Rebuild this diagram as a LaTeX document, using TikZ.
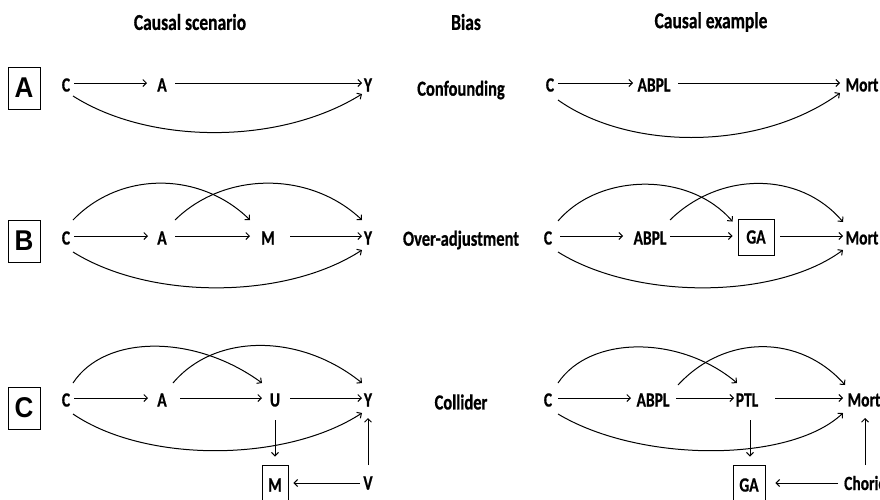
\documentclass[tikz,border=0pt]{standalone}
\usepackage{graphicx}
\usepackage{fontspec}
\setmainfont{Carlito}[BoldFeatures={FakeBold=0.8}]
\newfontfamily\arialb{Liberation Sans}
\usetikzlibrary{arrows.meta,calc}
\newcommand{\tallt}[1]{\scalebox{1}[1.3]{#1}}
\begin{document}
\begin{tikzpicture}[x=1pt,y=-1pt,
 lbl/.style={font=\fontsize{15.5}{17}\selectfont\bfseries, inner sep=0pt},
 hdr/.style={font=\fontsize{17.5}{19}\selectfont\bfseries, inner sep=0pt},
 biaslbl/.style={font=\fontsize{16.5}{18}\selectfont\bfseries, inner sep=0pt},
 letterbox/.style={draw, line width=0.7pt, minimum width=32pt, minimum height=42pt, inner sep=0pt, font=\arialb\bfseries\fontsize{26}{27}\selectfont},
 varbox/.style={draw, line width=0.9pt, inner sep=0pt, font=\fontsize{15.5}{17}\selectfont\bfseries},
 arr/.style={-{Straight Barb[length=3.5pt,width=7pt]}, line width=1pt},
]
\useasboundingbox (0,0) rectangle (880,499);

% headers
\node[hdr] (h1) at (190,22) {\tallt{Causal scenario}};
\node[hdr] (h2) at (466,22) {\tallt{Bias}};
\node[hdr] (h3) at (711,22) {\tallt{Causal example}};

% letter boxes
\node[letterbox] (bA) at (24,88) {\scalebox{1}[1.1]{A}};
\node[letterbox] (bB) at (24,241) {\scalebox{1}[1.1]{B}};
\node[letterbox] (bC) at (24,408) {\scalebox{1}[1.1]{C}};

% bias labels
\node[biaslbl] (biasA) at (461,90) {\tallt{Confounding}};
\node[biaslbl] (biasB) at (461,240) {\tallt{Over-adjustment}};
\node[biaslbl] (biasC) at (461,402) {\tallt{Collider}};

%% ---------- Row A ----------
\node[lbl] (cA) at (66,85) {\tallt{C}};
\node[lbl] (aA) at (162,85) {\tallt{A}};
\node[lbl] (yA) at (368,85) {\tallt{Y}};
\draw[arr] ($(cA)+(8,-2)$) -- ($(aA)+(-15,-2)$);
\draw[arr] ($(aA)+(13,-2)$) -- ($(yA)+(-6,-2)$);
\draw[arr] ($(cA)+(7,11)$) .. controls (150,145) and (280,145) .. ($(yA)+(-6,9)$);

\node[lbl] (cRA) at (550,85) {\tallt{C}};
\node[lbl] (abA) at (654,85) {\tallt{ABPL}};
\node[lbl] (mA) at (862,85) {\tallt{Mort}};
\draw[arr] ($(cRA)+(8,-2)$) -- ($(abA)+(-21,-2)$);
\draw[arr] ($(abA)+(24,-2)$) -- ($(mA)+(-22,-2)$);
\draw[arr] ($(cRA)+(8,15)$) .. controls (630,151) and (760,151) .. ($(mA)+(-22,8)$);

%% ---------- Row B ----------
\node[lbl] (cB) at (66,238) {\tallt{C}};
\node[lbl] (aB) at (162,238) {\tallt{A}};
\node[lbl] (mB) at (268,238) {\tallt{M}};
\node[lbl] (yB) at (368,238) {\tallt{Y}};
\draw[arr] ($(cB)+(8,-2)$) -- ($(aB)+(-14,-2)$);
\draw[arr] ($(aB)+(13,-2)$) -- ($(mB)+(-18,-2)$);
\draw[arr] ($(mB)+(22,-2)$) -- ($(yB)+(-6,-2)$);
\draw[arr] ($(cB)+(7,-18)$) .. controls (120,171) and (200,171) .. ($(mB)+(-18,-18)$);
\draw[arr] ($(aB)+(13,-18)$) .. controls (225,171) and (310,171) .. ($(yB)+(-6,-18)$);
\draw[arr] ($(cB)+(7,14)$) .. controls (150,300) and (285,300) .. ($(yB)+(-6,12)$);

\node[lbl] (cRB) at (548,238) {\tallt{C}};
\node[lbl] (abB) at (650,238) {\tallt{ABPL}};
\node[varbox, minimum width=36pt, minimum height=36pt] (gaB) at (756,237) {\tallt{GA}};
\node[lbl] (mortB) at (862,238) {\tallt{Mort}};
\draw[arr] ($(cRB)+(12,-2)$) -- ($(abB)+(-27,-2)$);
\draw[arr] ($(abB)+(20,-2)$) -- ($(gaB.west)+(-5,-1)$);
\draw[arr] ($(gaB.east)+(6,-1)$) -- ($(mortB)+(-19,-2)$);
\draw[arr] ($(cRB)+(10,-17)$) .. controls (600,172) and (690,172) .. ($(gaB.north west)+(-5,3)$);
\draw[arr] ($(abB)+(20,-18)$) .. controls (720,171) and (800,171) .. ($(mortB)+(-19,-16)$);
\draw[arr] ($(cRB)+(10,14)$) .. controls (635,300) and (775,300) .. ($(mortB)+(-19,12)$);

%% ---------- Row C ----------
\node[lbl] (cC) at (66,400) {\tallt{C}};
\node[lbl] (aC) at (162,400) {\tallt{A}};
\node[lbl] (uC) at (275,400) {\tallt{U}};
\node[lbl] (yC) at (368,400) {\tallt{Y}};
\node[varbox, minimum width=26pt, minimum height=40pt] (mC) at (275,485) {\tallt{M}};
\node[lbl] (vC) at (368,483) {\tallt{V}};
\draw[arr] ($(cC)+(8,-2)$) -- ($(aC)+(-14,-2)$);
\draw[arr] ($(aC)+(18,-2)$) -- ($(uC)+(-13,-2)$);
\draw[arr] ($(uC)+(15,-2)$) -- ($(yC)+(-6,-2)$);
\draw[arr] ($(uC)+(0,20)$) -- ($(mC.north)+(0,-8)$);
\draw[arr] ($(vC)+(-8,0)$) -- ($(mC.east)+(5,-2)$);
\draw[arr] ($(vC)+(0,-18)$) -- ($(yC)+(0,18)$);
\draw[arr] ($(cC)+(7,-17)$) .. controls (105,334) and (195,334) .. ($(uC)+(-13,-17)$);
\draw[arr] ($(aC)+(11,-17)$) .. controls (215,333) and (300,333) .. ($(yC)+(-6,-17)$);
\draw[arr] ($(cC)+(7,14)$) .. controls (145,463) and (285,463) .. ($(yC)+(-6,13)$);

\node[lbl] (cRC) at (548,400) {\tallt{C}};
\node[lbl] (abC) at (653,400) {\tallt{ABPL}};
\node[lbl] (ptl) at (747,400) {\tallt{PTL}};
\node[lbl] (mortC) at (864,400) {\tallt{Mort}};
\node[varbox, minimum width=32pt, minimum height=40pt] (gaC) at (749,485) {\tallt{GA}};
\node[lbl, anchor=west] (chor) at (844,483) {\tallt{Chorio}};
\draw[arr] ($(cRC)+(10,-2)$) -- ($(abC)+(-22,-2)$);
\draw[arr] ($(abC)+(23,-2)$) -- ($(ptl)+(-13,-2)$);
\draw[arr] ($(ptl)+(28,-2)$) -- ($(mortC)+(-21,-2)$);
\draw[arr] ($(ptl)+(3,20)$) -- ($(gaC.north)+(1,-8)$);
\draw[arr] ($(chor.west)+(-6,0)$) -- ($(gaC.east)+(10,-2)$);
\draw[arr] ($(chor.west)+(21,-18)$) -- ($(mortC)+(1,18)$);
\draw[arr] ($(cRC)+(10,-17)$) .. controls (590,335) and (680,335) .. ($(ptl)+(-10,-17)$);
\draw[arr] ($(abC)+(25,-15)$) .. controls (725,334) and (800,334) .. ($(mortC)+(-19,-15)$);
\draw[arr] ($(cRC)+(10,14)$) .. controls (640,463) and (790,463) .. ($(mortC)+(-21,13)$);
\end{tikzpicture}
\end{document}
